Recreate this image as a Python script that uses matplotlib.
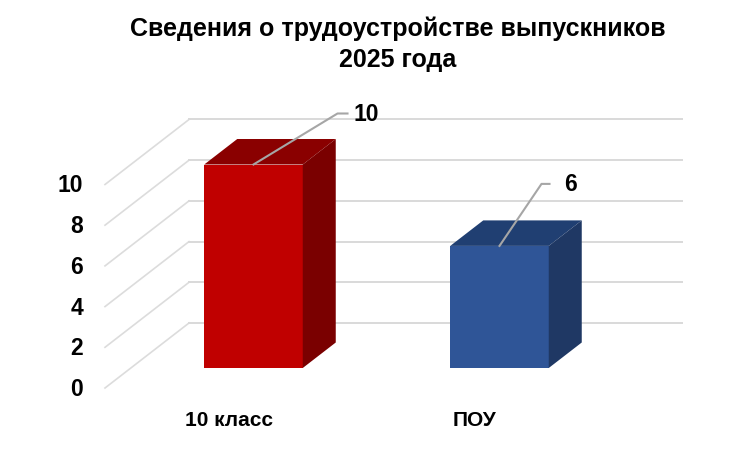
import matplotlib
matplotlib.use('Agg')
import matplotlib.pyplot as plt
from matplotlib.patches import Polygon

categories = ['10 класс', 'ПОУ']
values = [10, 6]
ticks = [0, 2, 4, 6, 8, 10]
title = 'Сведения о трудоустройстве выпускников\n2025 года'

front_colors = ['#C00000', '#2F5597']
top_colors = ['#8A0000', '#203F72']
side_colors = ['#7A0000', '#1F3864']

plt.rcParams['font.family'] = ['Liberation Sans', 'DejaVu Sans']
plt.rcParams['font.weight'] = 'bold'

# one category is 246 px wide, one value unit is 20.35 px high
sx = 246.0
sy = 20.35
x0_px = 253.5
y0_px = 368.0

fig = plt.figure(figsize=(7.49, 4.5), dpi=100)
ax = fig.add_axes([0, 0, 1, 1])
ax.set_xlim(-x0_px / sx, (749 - x0_px) / sx)
ax.set_ylim(-(450 - y0_px) / sy, y0_px / sy)
ax.axis('off')

bar_w = 98.5 / sx
dx = 33 / sx
dy = 25.5 / sy

# walls: left edge runs from front to back, then along the back wall
wall_front_x = (105 - x0_px) / sx
wall_back_x = (189 - x0_px) / sx
wall_right_x = (682 - x0_px) / sx
front_shift = -20 / sy
back_shift = 45 / sy
for t in ticks:
    ax.plot([wall_front_x, wall_back_x], [t + front_shift, t + back_shift],
            color='#DCDCDC', lw=1.2, zorder=1)
    ax.plot([wall_back_x, wall_right_x], [t + back_shift, t + back_shift],
            color='#D9D9D9', lw=1.4, zorder=1)
    ax.text(wall_front_x - 22 / sx, t + front_shift - 1.5 / sy, str(t), ha='right', va='center',
            fontsize=16.5, color='black')

for i, v in enumerate(values):
    l = i - bar_w / 2
    r = i + bar_w / 2
    ax.add_patch(Polygon([(l, 0), (r, 0), (r, v), (l, v)], fc=front_colors[i], ec='none', zorder=3))
    ax.add_patch(Polygon([(l, v), (r, v), (r + dx, v + dy), (l + dx, v + dy)],
                         fc=top_colors[i], ec='none', zorder=3))
    ax.add_patch(Polygon([(r, 0), (r + dx, dy), (r + dx, v + dy), (r, v)],
                         fc=side_colors[i], ec='none', zorder=3))

# data labels with leader lines, offsets in px from the top of the bar
label_off = [(84, 51), (42, 62)]
label_gap = [(10, 29), (8, 29)]
for i, v in enumerate(values):
    ox, oy = label_off[i]
    gx, tx = label_gap[i]
    lx = i + ox / sx
    ly = v + oy / sy
    ax.plot([i, lx, lx + gx / sx], [v, ly, ly], color='#A6A6A6', lw=1.5, zorder=4)
    ax.text(lx + tx / sx, ly - 1 / sy, str(v), ha='center', va='center', fontsize=16.5,
            color='black', zorder=5)

# category labels do not sit centred under the bars in the original
cat_x = [229, 475]
for i, c in enumerate(categories):
    ax.text((cat_x[i] - x0_px) / sx, -(420 - y0_px) / sy, c, ha='center', va='center',
            fontsize=15, color='black')

ax.text(0.531, 0.902, title, transform=ax.transAxes, ha='center', va='center',
        fontsize=18, color='black', linespacing=1.35)

fig.savefig('out.png', dpi=100)
